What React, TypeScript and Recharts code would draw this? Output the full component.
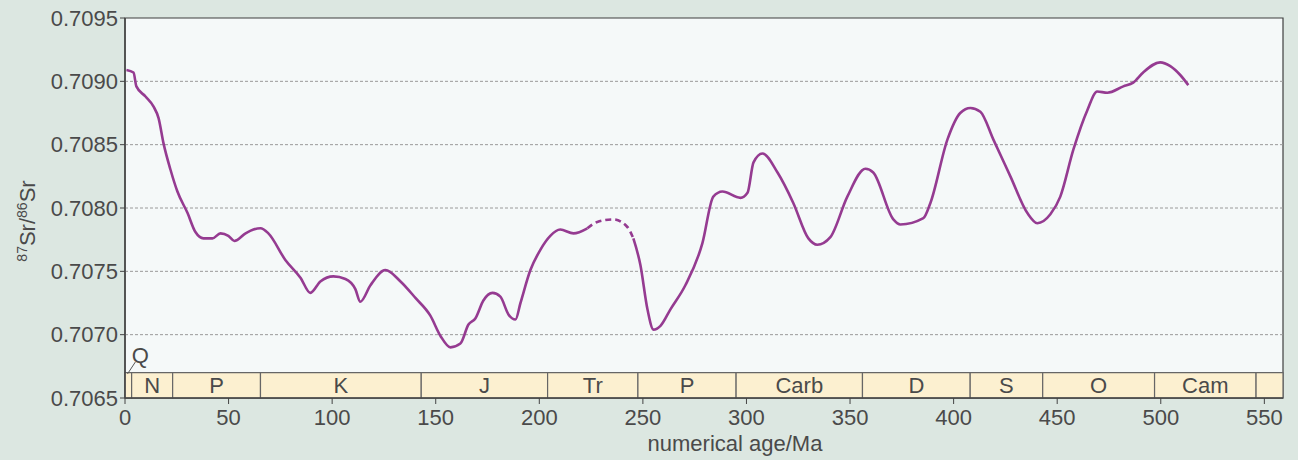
import React from 'react';
import {
  LineChart,
  Line,
  XAxis,
  YAxis,
  ReferenceArea,
  ReferenceLine,
  ReferenceDot,
} from 'recharts';

// Sr isotope curve (age in Ma, 87Sr/86Sr)
const ages = [
  0.7, 4.1, 5.5, 9.9, 13.8, 16.2, 18.6, 22.0, 25.3, 30.2, 34.0, 37.9, 42.2, 46.1, 49.9, 52.8,
  58.2, 62.0, 65.4, 69.2, 77.4, 84.7, 89.5, 94.3, 100.6, 106.4, 111.2, 113.6, 118.5, 125.7,
  133.0, 140.2, 147.4, 152.3, 157.1, 161.9, 165.8, 169.2, 173.0, 177.4, 181.2, 185.1, 188.5,
  190.9, 195.7, 200.5, 205.3, 210.1, 216.5, 223.2, 228.0, 235.8, 242.5, 245.4, 248.8, 252.2,
  255.1, 258.5, 263.3, 270.5, 278.7, 284.0, 288.4, 297.1, 300.5, 303.4, 307.7, 315.0, 322.6,
  329.9, 334.2, 340.5, 348.7, 357.4, 361.2, 370.9, 374.3, 385.4, 388.8, 397.0, 403.2, 408.1,
  412.9, 419.2, 427.4, 435.6, 440.4, 446.7, 451.5, 457.8, 464.5, 469.3, 474.2, 481.9, 486.7,
  491.5, 499.7, 504.6, 509.4, 513.3,
];

const srValues = [
  0.70909, 0.70907, 0.70896, 0.70888, 0.7088, 0.70871, 0.70851, 0.7083, 0.70813, 0.70796,
  0.70781, 0.70776, 0.70776, 0.7078, 0.70778, 0.70774, 0.7078, 0.70783, 0.70784, 0.7078,
  0.70759, 0.70745, 0.70733, 0.70742, 0.70746, 0.70744, 0.70736, 0.70726, 0.70739, 0.70751,
  0.70742, 0.70729, 0.70715, 0.70699, 0.7069, 0.70693, 0.70708, 0.70713, 0.70727, 0.70733,
  0.7073, 0.70716, 0.70712, 0.70725, 0.70751, 0.70767, 0.70778, 0.70783, 0.7078, 0.70784,
  0.70789, 0.70791, 0.70785, 0.70776, 0.70755, 0.7072, 0.70704, 0.70707, 0.7072, 0.70739,
  0.70772, 0.70809, 0.70813, 0.70808, 0.70812, 0.70836, 0.70843, 0.70828, 0.70804, 0.70776,
  0.70771, 0.70777, 0.70809, 0.70831, 0.70828, 0.70791, 0.70787, 0.70792, 0.70804, 0.70854,
  0.70875, 0.70879, 0.70876, 0.70854, 0.70825, 0.70796, 0.70788, 0.70795, 0.70809, 0.70846,
  0.70877, 0.70892, 0.70891, 0.70896, 0.70899, 0.70907, 0.70915, 0.70912, 0.70905, 0.70897,
];

// uncertain part of the curve (drawn dashed)
const dashedFrom = 223.2;
const dashedTo = 245.4;

// geological periods along the bottom
const periodNames = ['', 'N', 'P', 'K', 'J', 'Tr', 'P', 'Carb', 'D', 'S', 'O', 'Cam', ''];
const periodStarts = [0, 3.2, 23, 65.4, 143, 204, 247.6, 295, 356, 408, 443, 497, 546];
const maxAge = 559;

const xTicks = [0, 50, 100, 150, 200, 250, 300, 350, 400, 450, 500, 550];
const yTicks = [0.7065, 0.707, 0.7075, 0.708, 0.7085, 0.709, 0.7095];
const gridLevels = [0.707, 0.7075, 0.708, 0.7085, 0.709];

const data = ages.map((age, i) => {
  const v = srValues[i];
  const inDash = age > dashedFrom && age < dashedTo;
  const edge = age === dashedFrom || age === dashedTo;
  return {
    age,
    solid: inDash ? null : v,
    dashed: inDash || edge ? v : null,
  };
});

const FONT = '"Liberation Sans", Arial, sans-serif';
const TEXT = '#4a4a4a';
const LINE = '#953b91';
const FS = 22;

const YLabel = () => {
  const cx = 35;
  const cy = 221;
  return (
    <text
      x={cx}
      y={cy}
      transform={`rotate(-90 ${cx} ${cy})`}
      textAnchor="middle"
      fill={TEXT}
      fontSize={FS}
      fontFamily={FONT}
    >
      <tspan fontSize={14} dy={-8}>87</tspan>
      <tspan dy={8}>Sr/</tspan>
      <tspan fontSize={14} dy={-8}>86</tspan>
      <tspan dy={8}>Sr</tspan>
    </text>
  );
};

const XLabel = () => (
  <text x={735} y={451} textAnchor="middle" fill={TEXT} fontSize={FS} fontFamily={FONT}>
    numerical age/Ma
  </text>
);

export default function App() {
  return (
    <div
      style={{
        position: 'absolute',
        left: 0,
        top: 0,
        width: 1298,
        height: 460,
        background: '#dce7e1',
      }}
    >
      <LineChart
        width={1298}
        height={460}
        data={data}
        margin={{ top: 18, right: 15, left: 0, bottom: 0 }}
      >
        <ReferenceArea
          x1={0}
          x2={maxAge}
          y1={0.7065}
          y2={0.7095}
          fill="#f5f9f9"
          fillOpacity={1}
          stroke="#3f3f3f"
          strokeWidth={1.2}
        />
        {gridLevels.map((v) => (
          <ReferenceLine key={v} y={v} stroke="#9a9a9a" strokeDasharray="3 2" strokeWidth={1} />
        ))}
        {periodStarts.map((start, i) => (
          <ReferenceArea
            key={i}
            x1={start}
            x2={i + 1 < periodStarts.length ? periodStarts[i + 1] : maxAge}
            y1={0.7065}
            y2={0.7067}
            fill="#fcf0d0"
            fillOpacity={1}
            stroke="#666"
            strokeWidth={1.2}
            label={{
              value: periodNames[i],
              position: 'center',
              fill: TEXT,
              fontSize: FS,
              fontFamily: FONT,
            }}
          />
        ))}
        <ReferenceLine
          segment={[
            { x: 1.2, y: 0.70669 },
            { x: 5, y: 0.706784 },
          ]}
          stroke="#555"
          strokeWidth={1}
        />
        <ReferenceDot
          x={7.4}
          y={0.70684}
          r={0}
          fill="none"
          stroke="none"
          label={{ value: 'Q', position: 'center', fill: TEXT, fontSize: FS, fontFamily: FONT }}
        />
        <XAxis
          dataKey="age"
          type="number"
          domain={[0, maxAge]}
          ticks={xTicks}
          allowDataOverflow
          height={62}
          tickSize={6}
          tickMargin={5}
          axisLine={{ stroke: '#444', strokeWidth: 1.5 }}
          tickLine={{ stroke: '#444' }}
          tick={{ fill: TEXT, fontSize: FS, fontFamily: FONT }}
          label={<XLabel />}
        />
        <YAxis
          type="number"
          domain={[0.7065, 0.7095]}
          ticks={yTicks}
          allowDataOverflow
          width={125}
          tickSize={5}
          tickMargin={2}
          tickFormatter={(v: number) => v.toFixed(4)}
          axisLine={{ stroke: '#444', strokeWidth: 1.5 }}
          tickLine={{ stroke: '#444' }}
          tick={{ fill: TEXT, fontSize: FS, fontFamily: FONT }}
          label={<YLabel />}
        />
        <Line
          dataKey="solid"
          type="monotone"
          stroke={LINE}
          strokeWidth={2.6}
          dot={false}
          connectNulls={false}
          isAnimationActive={false}
        />
        <Line
          dataKey="dashed"
          type="monotone"
          stroke={LINE}
          strokeWidth={2.6}
          strokeDasharray="6 4"
          dot={false}
          connectNulls={false}
          isAnimationActive={false}
        />
      </LineChart>
    </div>
  );
}
